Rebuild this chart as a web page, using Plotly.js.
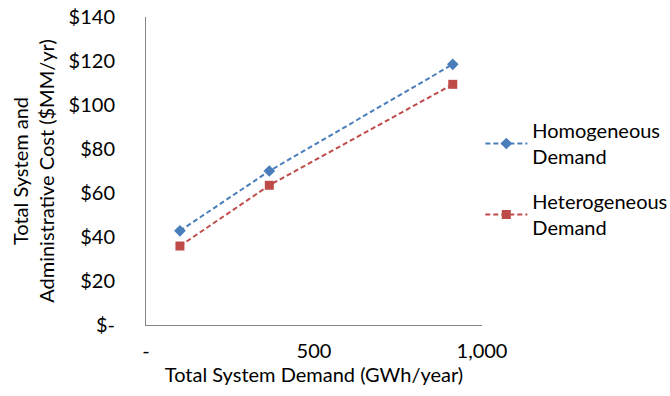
<!DOCTYPE html>
<html><head><meta charset="utf-8">
<script src="https://cdn.plot.ly/plotly-3.0.1.min.js"></script>
<style>body{margin:0;background:#fff}#chart{width:670px;height:396px}</style>
</head><body><div id="chart"></div>
<script>
const demand = [101, 367, 913];
const homogeneous = [42.8, 70, 118.5];
const heterogeneous = [35.9, 63.5, 109.4];
const seriesNames = ["Homogeneous<br>Demand", "Heterogeneous<br>Demand"];
const yTickVals = [0, 20, 40, 60, 80, 100, 120, 140];
const yTickText = ["$-", "$20", "$40", "$60", "$80", "$100", "$120", "$140"];
const xTickVals = [0, 500, 1000];
const xTickText = ["-", "500", "1,000"];

const font = "Lato, 'Open Sans', sans-serif";
const data = [
  {x: demand, y: homogeneous, name: seriesNames[0], legendgroup: "a", mode: "lines+markers", type: "scatter",
   line: {color: "#4A7EBB", width: 2, dash: "5px,3px"},
   marker: {symbol: "diamond", color: "#4A7EBB", size: 9}},
  {x: demand, y: heterogeneous, name: seriesNames[1], legendgroup: "b", mode: "lines+markers", type: "scatter",
   line: {color: "#BE4B48", width: 2, dash: "5px,3px"},
   marker: {symbol: "square", color: "#BE4B48", size: 9}}
];
const layout = {
  width: 670, height: 396,
  margin: {l: 146, r: 188, t: 17, b: 71, autoexpand: false},
  paper_bgcolor: "#fff", plot_bgcolor: "#fff",
  font: {family: font, size: 20, color: "#000"},
  showlegend: true,
  legend: {x: 0.995, xanchor: "left", y: 0.474, yanchor: "middle", font: {size: 20},
           tracegroupgap: 16, itemwidth: 42},
  xaxis: {range: [0, 1000], tickvals: xTickVals, ticktext: xTickText, showgrid: false, zeroline: false,
          showline: true, linecolor: "#868686", linewidth: 1, ticks: "", ticklabelstandoff: 8,
          title: {text: "Total System Demand (GWh/year)", standoff: 0, font: {size: 20}}},
  yaxis: {range: [0, 140], tickvals: yTickVals, ticktext: yTickText, showgrid: false, zeroline: false,
          showline: true, linecolor: "#868686", linewidth: 1, ticks: "", ticklabelstandoff: 26,
          title: {text: "Total System and<br>Administrative Cost ($MM/yr)", standoff: 8, font: {size: 20}}}
};
Plotly.newPlot("chart", data, layout, {displayModeBar: false, staticPlot: true});
</script></body></html>
